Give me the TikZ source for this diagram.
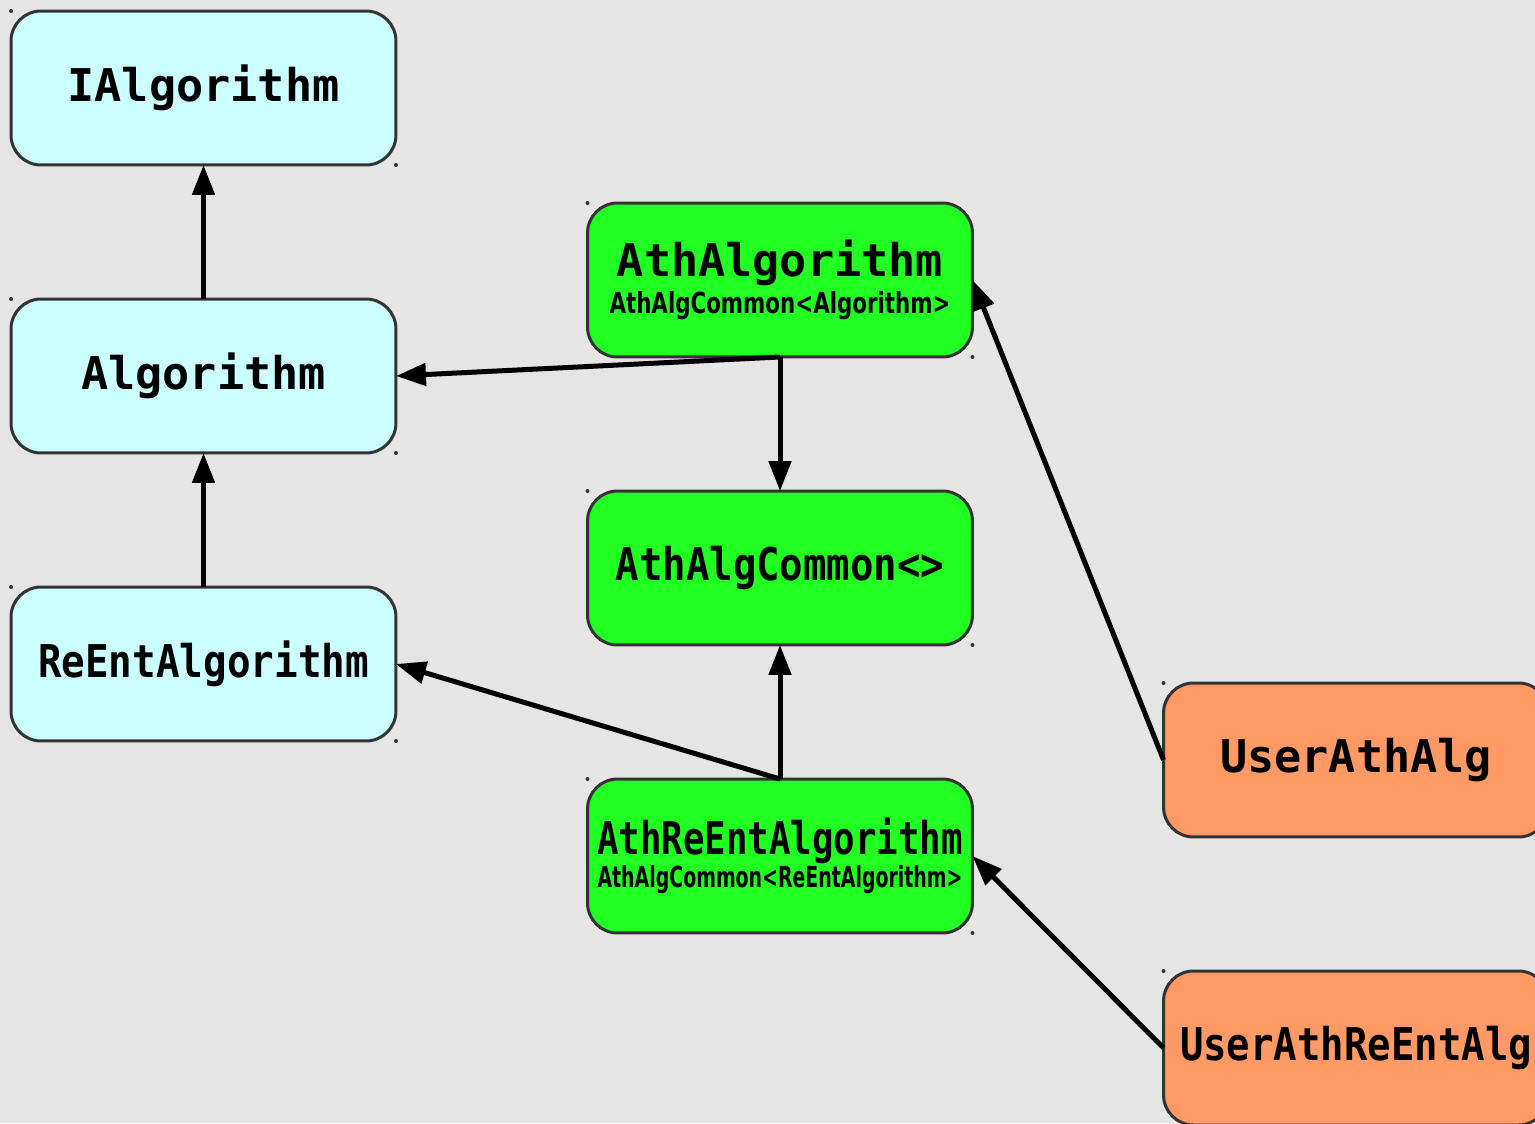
\documentclass[tikz,border=0pt]{standalone}
\usepackage{fontspec}
\usepackage{graphicx}
\usetikzlibrary{arrows.meta}
\newfontfamily\codefont{DejaVu Sans Mono}
\newfontfamily\labelfont{DejaVu Sans}
\definecolor{canvas}{HTML}{E5E5E5}
\definecolor{rim}{HTML}{333333}
\definecolor{gaudi}{HTML}{CCFFFF}
\definecolor{athena}{HTML}{22FF22}
\definecolor{user}{HTML}{FF9966}
\newcommand\squeeze[2]{\resizebox{#1}{\height}{#2}}
\newcommand\classfont{\fontsize{25.7pt}{30pt}\selectfont\codefont\bfseries}
\newcommand\basefont{\fontsize{16.5pt}{19pt}\selectfont\labelfont\bfseries}
\tikzset{
  >={Triangle[length=6mm,width=4.4mm]},
  inherit/.style={->, draw=black, line width=1mm},
  classbox/.style={draw=rim, line width=0.6mm, rounded corners=6mm, minimum width=7.7cm,
    minimum height=3.08cm, inner sep=0pt, outer sep=0pt, align=center, font=\classfont},
  gaudibox/.style={classbox, fill=gaudi},
  athbox/.style={classbox, fill=athena},
  userbox/.style={classbox, fill=user},
  cornerdot/.style={fill=rim},
}

\begin{document}
\begin{tikzpicture}[x=0.02cm, y=-0.02cm]

% canvas
\fill[canvas] (0,0) rectangle (1535,1123);
\useasboundingbox (0,0) rectangle (1535,1123);
\clip (0,0) rectangle (1535,1123);

% -----------------------------------------------------------------------------
% Gaudi side
% -----------------------------------------------------------------------------
\node[gaudibox] (ialg) at (203.5,88) {IAlgorithm};
\node[gaudibox] (alg) at (203.5,376) {Algorithm};
\node[gaudibox] (reent) at (203.5,664) {\squeeze{6.62cm}{ReEntAlgorithm}};

% -----------------------------------------------------------------------------
% Athena bases
% -----------------------------------------------------------------------------
\node[athbox] (athalg) at (780,280)
  {AthAlgorithm\\[-9pt]{\basefont\squeeze{6.82cm}{AthAlgCommon<Algorithm>}}};
\node[athbox] (common) at (780,568) {\squeeze{6.58cm}{AthAlgCommon<>}};
\node[athbox] (athreent) at (780,856)
  {\squeeze{7.32cm}{AthReEntAlgorithm}\\[-11pt]{\basefont\squeeze{7.3cm}{AthAlgCommon<ReEntAlgorithm>}}};

% -----------------------------------------------------------------------------
% user classes
% -----------------------------------------------------------------------------
\node[userbox] (userath) at (1356,760) {UserAthAlg};
\node[userbox] (userreent) at (1356,1048) {\squeeze{7.04cm}{UserAthReEntAlg}};

% corner marks
\foreach \b in {ialg,alg,reent,athalg,common,athreent,userath,userreent}{
  \fill[cornerdot] (\b.north west) circle (0.4mm);
  \fill[cornerdot] (\b.south east) circle (0.4mm);
}

% inheritance
\draw[inherit] (alg.north) -- (ialg.south);
\draw[inherit] (reent.north) -- (alg.south);
\draw[inherit] (athalg.south) -- (alg.east);
\draw[inherit] (athalg.south) -- (common.north);
\draw[inherit] (athreent.north) -- (common.south);
\draw[inherit] (athreent.north) -- (reent.east);
\draw[inherit] (userath.west) -- (athalg.east);
\draw[inherit] (userreent.west) -- (athreent.east);

\end{tikzpicture}
\end{document}
